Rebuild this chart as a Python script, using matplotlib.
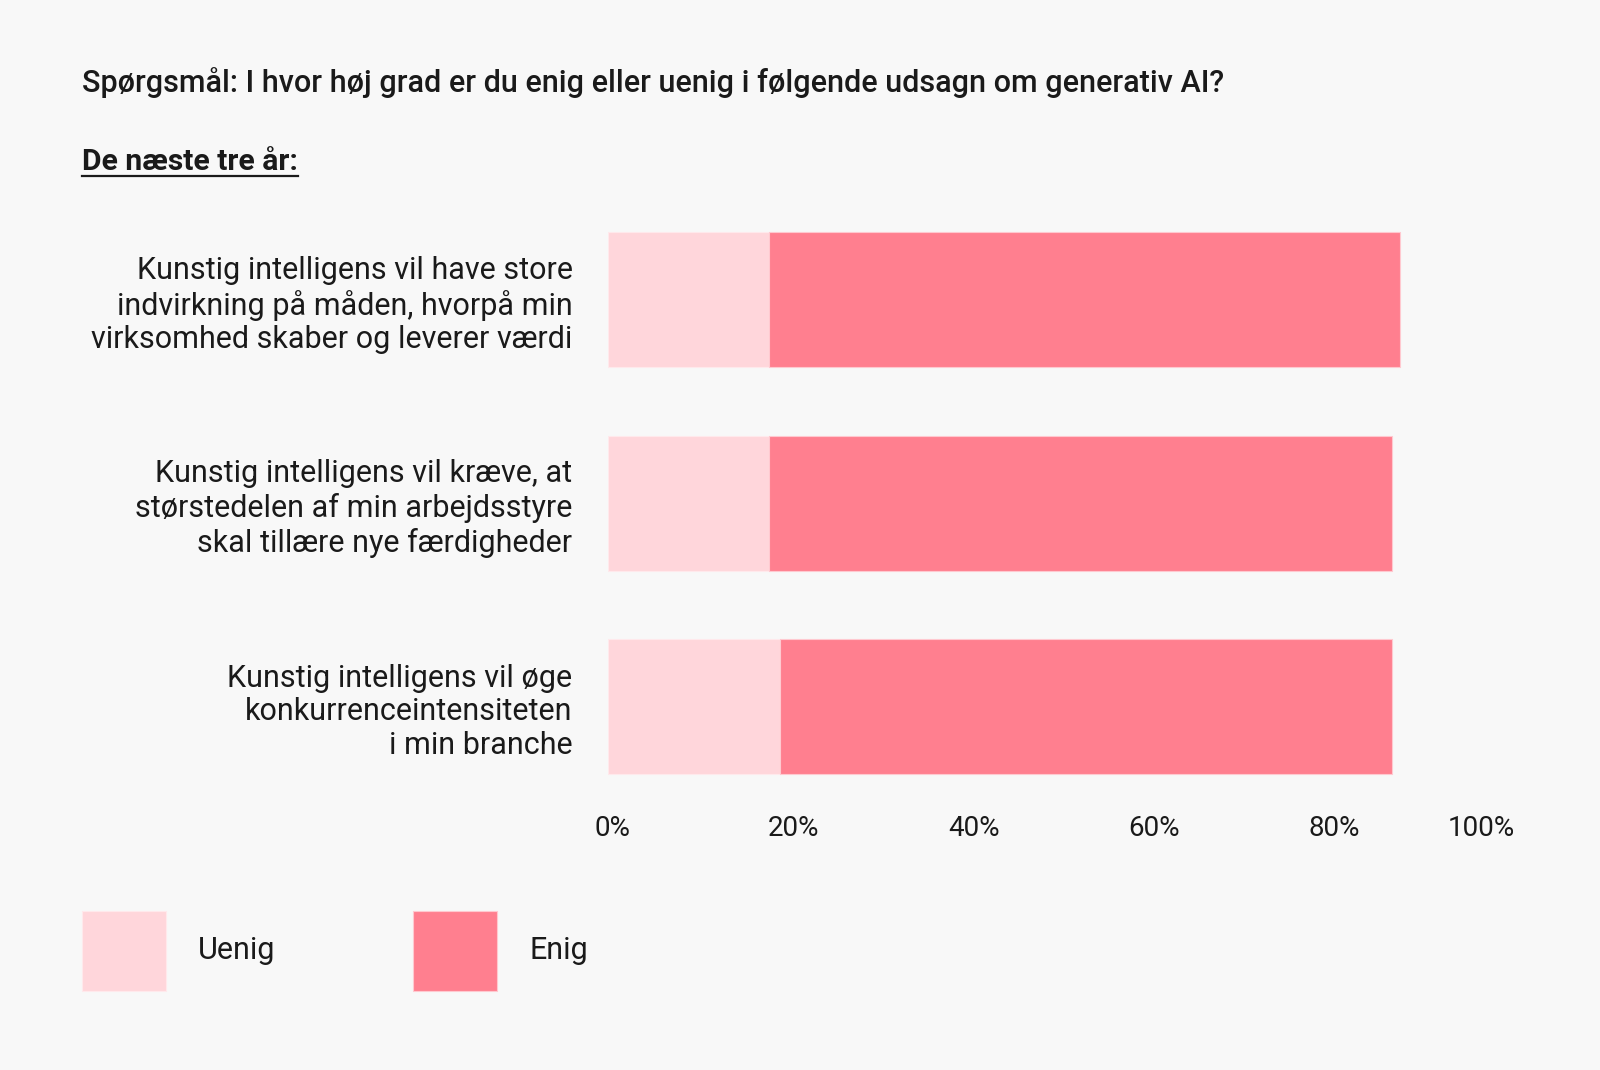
import matplotlib.pyplot as plt
from matplotlib.transforms import ScaledTranslation
from matplotlib.lines import Line2D

# survey statements (top to bottom)
statements = [
    "Kunstig intelligens vil have store\nindvirkning på måden, hvorpå min\nvirksomhed skaber og leverer værdi",
    "Kunstig intelligens vil kræve, at\nstørstedelen af min arbejdsstyre\nskal tillære nye færdigheder",
    "Kunstig intelligens vil øge\nkonkurrenceintensiteten\ni min branche",
]
uenig = [17.9, 17.9, 19.1]
enig = [70.0, 69.1, 67.9]
ticks = [0, 20, 40, 60, 80, 100]
tick_labels = ["0%", "20%", "40%", "60%", "80%", "100%"]

BG = "#f8f8f8"
LIGHT = "#ffd6db"
DARK = "#ff7f8f"
TXT = "#1a1a1a"

plt.rcParams["font.family"] = ["Roboto", "DejaVu Sans"]

fig = plt.figure(figsize=(16, 10.7), dpi=100, facecolor=BG)
W, H = 1600, 1070
ax = fig.add_axes([608 / W, 1 - 808.5 / H, (1509.5 - 608) / W, (808.5 - 198) / H])
ax.set_facecolor(BG)

y = list(range(len(statements)))
ax.barh(y, uenig, height=0.663, color=LIGHT, edgecolor="#ffe9ec", linewidth=0.8, label="Uenig")
ax.barh(y, enig, left=uenig, height=0.663, color=DARK, edgecolor="#ffc9d0", linewidth=0.8, label="Enig")

ax.set_xlim(0, 100)
ax.set_ylim(2.5, -0.5)
ax.set_yticks(y)
ax.set_yticklabels(statements, fontsize=22, color=TXT, linespacing=1.19)
for lab in ax.get_yticklabels():
    lab.set_multialignment("right")
ax.set_xticks(ticks)
ax.set_xticklabels(tick_labels, fontsize=20, color=TXT)
ax.tick_params(axis="y", length=0, pad=25.5)
ax.tick_params(axis="x", length=0, pad=5)
shift = ScaledTranslation(5 / 100, 0, fig.dpi_scale_trans)
for lab in ax.get_xticklabels():
    lab.set_transform(lab.get_transform() + shift)
ax.get_xticklabels()[-1].set_horizontalalignment("right")
for s in ax.spines.values():
    s.set_visible(False)

fig.text(82 / W, 1 - 83 / H, "Spørgsmål: I hvor høj grad er du enig eller uenig i følgende udsagn om generativ AI?",
         fontsize=22, fontweight="medium", color=TXT, va="center", ha="left")
sub = fig.text(82 / W, 1 - 162 / H, "De næste tre år:", fontsize=21.7, fontweight="bold",
               color=TXT, va="center", ha="left")

fig.canvas.draw()
bb = sub.get_window_extent()
fig.add_artist(Line2D([bb.x0 / W, bb.x1 / W], [1 - 176 / H, 1 - 176 / H],
                      transform=fig.transFigure, color=TXT, linewidth=1.6))

fs = 22 * 100 / 72
fig.legend(loc="upper left", bbox_to_anchor=(82 / W, 1 - 911 / H), ncol=2, frameon=False,
           fontsize=22, handlelength=84 / fs, handleheight=(80 / fs - 0.245) / 0.65,
           handletextpad=32 / fs, columnspacing=138 / fs, borderpad=0, borderaxespad=0,
           labelcolor=TXT)

fig.savefig("out.png", dpi=100, facecolor=BG)
